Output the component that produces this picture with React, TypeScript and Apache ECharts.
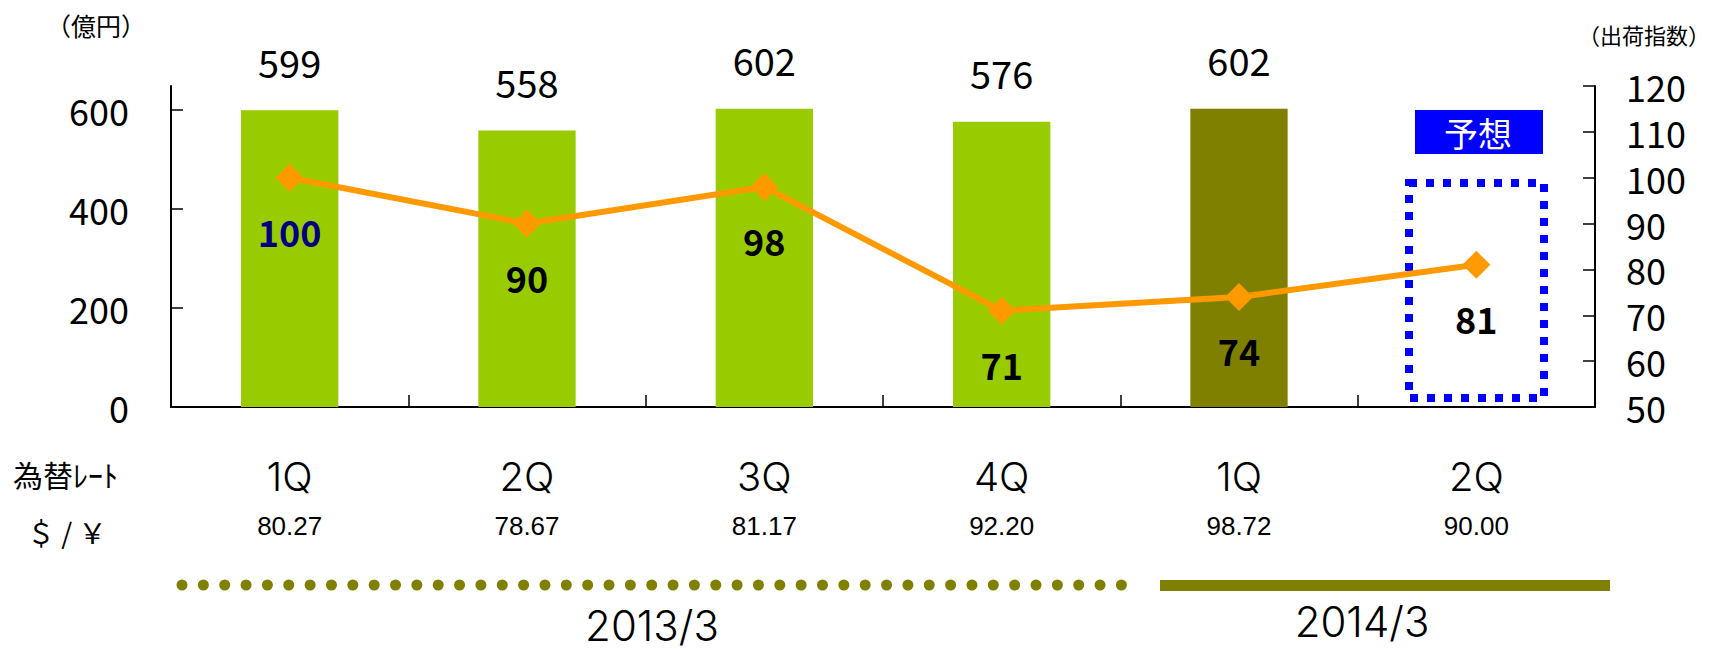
import React, { useEffect, useRef } from "react";
import * as echarts from "echarts";

const categories = ["1Q", "2Q", "3Q", "4Q", "1Q", "2Q"];
const sales = [599, 558, 602, 576, 602, null];
const shipmentIndex = [100, 90, 98, 71, 74, 81];
const exchangeRates = ["80.27", "78.67", "81.17", "92.20", "98.72", "90.00"];
const leftTicks = [0, 200, 400, 600];
const fiscalYears = ["2013/3", "2014/3"];
const leftUnit = "（億円）";
const rightUnit = "（出荷指数）";
const rateTitle = "為替ﾚｰﾄ";
const rateUnit = "＄ / ￥";
const forecastLabel = "予想";

const JP = "'Noto Sans CJK JP', 'Noto Sans', sans-serif";
const THIN = "Inter, 'DejaVu Sans', sans-serif";
const GREEN = "#99CC00";
const OLIVE = "#808000";
const ORANGE = "#FF9900";
const BLUE = "#0000FF";

export default function App() {
  const ref = useRef<HTMLDivElement>(null);
  useEffect(() => {
    if (!ref.current) return;
    const chart = echarts.init(ref.current, null, { renderer: "svg" });
    const option: any = {
      animation: false,
      backgroundColor: "#fff",
      grid: { left: 171, right: 117, top: 86, bottom: 242, containLabel: false, outerBoundsMode: "none" },
      xAxis: {
        type: "category",
        data: categories,
        axisLine: { show: true, lineStyle: { color: "#000", width: 2 } },
        axisTick: { show: true, inside: true, length: 12, interval: 0, lineStyle: { color: "#000", width: 1.5 } },
        axisLabel: {
          interval: 0,
          margin: 47,
          color: "#000",
          formatter: (v: string, i: number) => `{q|${v}}\n{r|${exchangeRates[i]}}`,
          rich: {
            q: { fontSize: 40, fontFamily: THIN, fontWeight: 300, color: "#000", lineHeight: 44 },
            r: { fontSize: 26, fontFamily: "'Liberation Sans', Arial, sans-serif", color: "#000", lineHeight: 56 },
          },
        },
        splitLine: { show: false },
      },
      yAxis: [
        {
          type: "value",
          position: "left",
          min: 0,
          max: 648,
          interval: 200,
          axisLine: { show: true, lineStyle: { color: "#000", width: 2 } },
          axisTick: { show: true, inside: true, length: 12, customValues: leftTicks, lineStyle: { color: "#000", width: 1.5 } },
          axisLabel: { customValues: leftTicks, fontSize: 36, fontFamily: JP, color: "#000", margin: 42, padding: [12, 0, 0, 0] },
          splitLine: { show: false },
        },
        {
          type: "value",
          position: "right",
          min: 50,
          max: 120,
          interval: 10,
          axisLine: { show: true, lineStyle: { color: "#000", width: 2 } },
          axisTick: { show: true, inside: true, length: 12, lineStyle: { color: "#000", width: 1.5 } },
          axisLabel: { fontSize: 36, fontFamily: JP, color: "#000", margin: 31, padding: [12, 0, 0, 0] },
          splitLine: { show: false },
        },
      ],
      series: [
        {
          type: "bar",
          yAxisIndex: 0,
          barWidth: "41%",
          data: sales.map((v, i) => ({
            value: v === null ? "-" : v,
            itemStyle: { color: i === 4 ? OLIVE : GREEN },
          })),
          label: { show: true, position: "top", distance: 30, fontSize: 38, fontFamily: JP, color: "#000" },
        },
        {
          type: "line",
          yAxisIndex: 1,
          data: shipmentIndex.map((v, i) => (i === 0 ? { value: v, label: { color: "#000080" } } : v)),
          symbol: "diamond",
          symbolSize: 28,
          itemStyle: { color: ORANGE },
          lineStyle: { color: ORANGE, width: 6 },
          label: { show: true, position: "bottom", distance: 21, fontSize: 36, fontWeight: "bold", fontFamily: JP, color: "#000" },
          z: 5,
        },
      ],
      graphic: [
        { type: "text", x: 96, y: 25, style: { text: leftUnit, fontSize: 25, fontFamily: JP, fill: "#000", align: "center", verticalAlign: "middle" } },
        { type: "text", x: 1578, y: 34, style: { text: rightUnit, fontSize: 22, fontFamily: JP, fill: "#000", align: "left", verticalAlign: "middle" } },
        { type: "text", x: 13, y: 474, style: { text: rateTitle, fontSize: 30, fontFamily: JP, fill: "#000", align: "left", verticalAlign: "middle" } },
        { type: "text", x: 27, y: 532, style: { text: rateUnit, fontSize: 28, fontFamily: JP, fill: "#000", align: "left", verticalAlign: "middle" } },
        { type: "rect", shape: { x: 1415, y: 110, width: 128, height: 44 }, style: { fill: BLUE } },
        { type: "text", x: 1478, y: 132, style: { text: forecastLabel, fontSize: 34, fontFamily: JP, fill: "#fff", align: "center", verticalAlign: "middle" } },
        { type: "rect", shape: { x: 1409, y: 183, width: 135, height: 215 }, style: { fill: "none", stroke: BLUE, lineWidth: 8, lineDash: [8, 9] } },
        { type: "line", shape: { x1: 182, y1: 585, x2: 1126, y2: 585 }, style: { stroke: OLIVE, lineWidth: 11, lineCap: "round", lineDash: [0.01, 21.34] } },
        { type: "rect", shape: { x: 1160, y: 580, width: 450, height: 11 }, style: { fill: OLIVE } },
        { type: "text", x: 652, y: 625, style: { text: fiscalYears[0], fontSize: 42, fontFamily: THIN, fontWeight: 300, fill: "#000", align: "center", verticalAlign: "middle" } },
        { type: "text", x: 1362, y: 621, style: { text: fiscalYears[1], fontSize: 42, fontFamily: THIN, fontWeight: 300, fill: "#000", align: "center", verticalAlign: "middle" } },
      ],
    };
    chart.setOption(option);
    return () => chart.dispose();
  }, []);
  return <div ref={ref} style={{ position: "fixed", left: 0, top: 0, width: 1712, height: 649 }} />;
}
